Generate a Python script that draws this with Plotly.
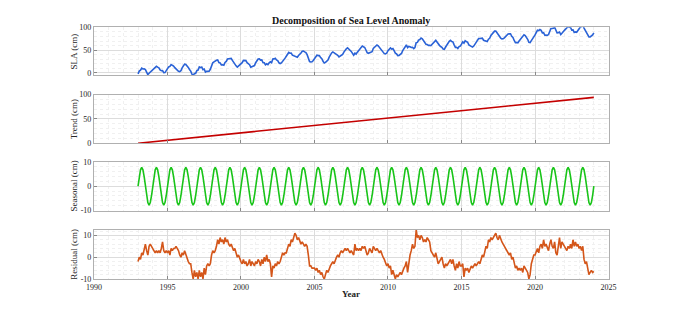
import numpy as np
import plotly.graph_objects as go

# ---- data ----
start_year = 1993
# monthly residual (cm), Jan 1993 .. Jan 2024
residual = [
    -2, 0, -1, 2, 1, 4, 6, 3, 1, 5, 6, 5,        # 1993
    4, 3, 2, 3, 2, 3, 2, 4, 7, 3, 2, 3,          # 1994
    2, 3, 1, 4, 3, 4, 4, 5, 4, 3, 1, 0,          # 1995
    2, 1, 3, 1, -1, -2, -3, -3, -7, -10, -6, -9, # 1996
    -7, -10, -6, -9, -7, -10, -5, -8, -4, -3, -4, -3,  # 1997
    1, 3, 2, 3, 5, 8, 6, 9, 7, 8, 6, 9,          # 1998
    7, 8, 6, 5, 6, 4, 3, 4, 2, 0, 1, -1,         # 1999
    -2, -3, -1, -3, -2, -4, -3, -1, -4, -2, -3, -4,   # 2000
    -2, -3, -1, -2, -4, -1, -3, 0, -2, 1, -2, -1,     # 2001
    -3, -9, -4, -5, -3, -4, -2, -3, -2, 0, 2, 1,      # 2002
    2, 2, 4, 6, 5, 8, 7, 9, 11, 10, 8, 9,        # 2003
    7, 6, 7, 6, 5, 6, 5, 1, -4, -4, -5, -5,      # 2004
    -5, -6, -5, -7, -6, -8, -7, -9, -10, -8, -6, -7,  # 2005
    -5, -4, -3, -2, -3, -1, 0, 1, 0, 2, 3, 2,    # 2006
    3, 4, 3, 4, 3, 2, 3, 2, 1, 6, 3, 4,          # 2007
    3, 4, 3, 5, 4, 5, 3, 1, 2, 4, 3, 2,          # 2008
    5, 4, 3, 4, 3, 2, 3, 1, 0, -1, -3, -4,       # 2009
    -3, -5, -4, -8, -6, -8, -10, -8, -9, -8, -7, -8,  # 2010
    -6, -5, -4, -2, -7, -2, 1, 3, 6, 4, 5, 12.5,  # 2011
    9, 10, 8, 10, 9, 7, 8, 7, 9, 8, 7, 3,        # 2012
    2, 1, 0, 2, -1, -3, -2, -1, 0, -3, -5, -3,   # 2013
    -4, -3, -2, -1, -3, -1, -4, -6, -3, -5, -2, -4,   # 2014
    -4, -3, -9, -5, -6, -5, -7, -5, -4, -5, -4, -3,   # 2015
    -4, -3, -2, -3, -1, 1, 0, 3, 5, 4, 8, 7,     # 2016
    9, 8, 9, 10, 11, 9, 8, 10, 8, 7, 6, 5,       # 2017
    4, 3, 2, 1, 2, -1, 0, -3, -5, -4, -6, -5,    # 2018
    -6, -5, -7, -4, -5, -6, -7, -10, -8, -3, -1, 1,   # 2019
    1, 3, 4, 2, 5, 6, 4, 8, 5, 6, 4, 3,          # 2020
    6, 8, 5, 4, 7, 2, 1, 5, 9, 4, 7, 6,          # 2021
    5, 4, 3, 5, 4, 6, 4, 8, 5, 7, 5, 6,          # 2022
    4, 5, 3, 5, -1, -3, -2, -5, -8, -7, -6, -7,  # 2023
    -6.5,                                        # 2024
]
# one annual cycle of the seasonal component (cm), Jan..Dec
seasonal_cycle = [0, 3.9, 6.7, 7.7, 6.7, 3.9, 0, -3.9, -6.7, -7.7, -6.7, -3.9]
# trend (cm) at the start of each year 1993..2024
trend_years = list(range(1993, 2025))
trend_vals = [0, 3.0, 6.1, 9.1, 12.2, 15.2, 18.3, 21.3, 24.4, 27.4, 30.5,
              33.5, 36.6, 39.6, 42.7, 45.7, 48.8, 51.8, 54.9, 57.9, 61.0,
              64.0, 67.1, 70.1, 73.2, 76.2, 79.3, 82.3, 85.4, 88.4, 91.5, 94.5]
x_ticks = [1990, 1995, 2000, 2005, 2010, 2015, 2020, 2025]

# ---- assemble ----
n = len(residual)
t = start_year + np.arange(n) / 12.0
seasonal = np.array([seasonal_cycle[i % 12] for i in range(n)])
trend_m = np.interp(t, trend_years, trend_vals)
sla = trend_m + seasonal + np.array(residual)

W, H = 680, 318
FONT = "Liberation Serif, Times New Roman, serif"
x0, x1 = 88 / W, 615 / W

def ydom(top, bot):
    return [1 - bot / H, 1 - top / H]

panels = [
    dict(y=sla, x=t, color="#2a62d6", title="SLA (cm)", rng=[-4.3, 100], ticks=[0, 50, 100], minor=10, dom=ydom(24, 73)),
    dict(y=trend_vals, x=trend_years, color="#c40000", title="Trend (cm)", rng=[0, 100], ticks=[0, 50, 100], minor=10, dom=ydom(93.3, 143.3)),
    dict(y=seasonal, x=t, color="#19c419", title="Seasonal (cm)", rng=[-10, 10], ticks=[-10, 0, 10], minor=2, dom=ydom(162.3, 212.7)),
    dict(y=residual, x=t, color="#d4561a", title="Residual (cm)", rng=[-10, 12.6], ticks=[-10, 0, 10], minor=2, dom=ydom(232.3, 283)),
]

fig = go.Figure()
layout = dict(
    width=W, height=H,
    margin=dict(l=0, r=0, t=0, b=0),
    paper_bgcolor="white", plot_bgcolor="white",
    showlegend=False,
    font=dict(family=FONT, size=8, color="#262626"),
    annotations=[],
)
for i, p in enumerate(panels):
    k = "" if i == 0 else str(i + 1)
    fig.add_trace(go.Scatter(x=p["x"], y=p["y"], mode="lines",
                             line=dict(color=p["color"], width=1.6),
                             xaxis="x" + k, yaxis="y" + k, hoverinfo="skip"))
    layout["xaxis" + k] = dict(
        domain=[x0, x1], range=[1990, 2025], anchor="y" + k,
        tickvals=x_ticks, showticklabels=(i == 3),
        ticks="inside", ticklen=3, tickcolor="#888",
        showgrid=True, gridcolor="#dcdcdc", gridwidth=1,
        minor=dict(dtick=1, tick0=1990, showgrid=True, gridcolor="#f0f0f0", griddash="dot", ticks=""),
        showline=True, linecolor="#b0b0b0", mirror=True, zeroline=False,
        tickfont=dict(family=FONT, size=8, color="#262626"),
    )
    layout["yaxis" + k] = dict(
        domain=p["dom"], range=p["rng"], anchor="x" + k,
        tickvals=p["ticks"], ticktext=[str(v) for v in p["ticks"]],
        ticks="inside", ticklen=3, tickcolor="#888",
        showgrid=True, gridcolor="#dcdcdc", gridwidth=1,
        minor=dict(dtick=p["minor"], showgrid=True, gridcolor="#f0f0f0", griddash="dot", ticks=""),
        showline=True, linecolor="#b0b0b0", mirror=True, zeroline=False,
        tickfont=dict(family=FONT, size=8, color="#262626"),
    )
    ymid = (p["dom"][0] + p["dom"][1]) / 2
    layout["annotations"].append(dict(
        text=p["title"], x=68 / W, y=ymid, xref="paper", yref="paper",
        textangle=-90, showarrow=False, xanchor="center", yanchor="middle",
        font=dict(family=FONT, size=9, color="#262626"),
    ))

layout["annotations"].append(dict(
    text="<b>Decomposition of Sea Level Anomaly</b>", x=(x0 + x1) / 2, y=1 - 17 / H,
    xref="paper", yref="paper", showarrow=False, xanchor="center", yanchor="middle",
    font=dict(family=FONT, size=10, color="#111"),
))
layout["annotations"].append(dict(
    text="<b>Year</b>", x=(x0 + x1) / 2, y=1 - 298 / H,
    xref="paper", yref="paper", showarrow=False, xanchor="center", yanchor="middle",
    font=dict(family=FONT, size=9, color="#222"),
))
fig.update_layout(**layout)
fig.write_html("out.html")
